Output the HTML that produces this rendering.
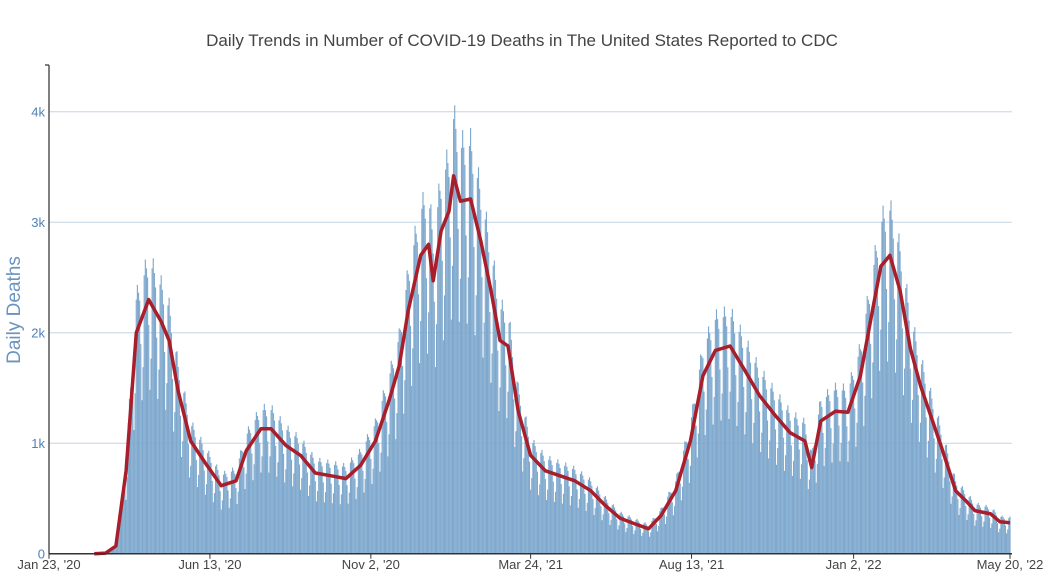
<!DOCTYPE html>
<html><head><meta charset="utf-8">
<style>
body{margin:0;background:#fff;}
svg{display:block;font-family:"Liberation Sans",sans-serif;}
</style></head>
<body>
<svg id="chart" width="1052" height="576">
  <text x="522" y="46" text-anchor="middle" font-size="17" fill="#444">Daily Trends in Number of COVID-19 Deaths in The United States Reported to CDC</text>
  <text transform="translate(20,310) rotate(-90)" text-anchor="middle" font-size="19" fill="#6a93c0">Daily Deaths</text>
  <g id="grid"></g>
  <g id="bars"></g>
  <g id="line"></g>
  <g id="axes"></g>
</svg>
<script>
// 7-day average: day offset from Jan 23 2020, and value
const avgDays = [40,50,59,68,77,88,99,106,114,125,138,152,165,174,187,196,209,222,235,249,262,275,288,300,309,317,328,335,339,346,353,357,363,372,381,390,398,405,414,425,438,451,464,478,491,504,517,529,540,553,566,577,588,601,614,627,641,654,667,673,681,694,705,716,725,734,742,751,760,769,778,787,800,809,817,831,839,848];
const avgValues = [0,5,70,750,2000,2300,2100,1930,1470,1020,820,615,660,930,1130,1130,980,890,730,705,680,800,1020,1385,1700,2200,2700,2800,2470,2920,3100,3420,3190,3210,2830,2380,1930,1880,1290,890,750,705,660,570,435,320,270,225,345,570,1020,1610,1840,1880,1660,1430,1250,1095,1020,780,1200,1290,1280,1610,2110,2600,2700,2380,1860,1520,1250,980,570,480,390,360,290,280];
// day-of-week reporting pattern
const weekdayFactor = [1.15,1.2,1.15,1.1,0.9,0.65,0.78];
const yTicks = [0,1000,2000,3000,4000];
const yTickLabels = ["0","1k","2k","3k","4k"];
const xTickDays = [0,142,284,425,567,710,848];
const xTickLabels = ["Jan 23, '20","Jun 13, '20","Nov 2, '20","Mar 24, '21","Aug 13, '21","Jan 2, '22","May 20, '22"];

const NS="http://www.w3.org/2000/svg";
const X0=49, X1=1010, DMAX=848, Y0=553.7, PXK=0.1105;
const xs=d=>X0+(d/DMAX)*(X1-X0);
const ys=v=>Y0-v*PXK;
function mk(tag,attrs,parent){const e=document.createElementNS(NS,tag);for(const k in attrs)e.setAttribute(k,attrs[k]);parent.appendChild(e);return e;}
function avgAt(d){
  if(d<avgDays[0])return 0;
  for(let i=0;i<avgDays.length-1;i++){
    if(d>=avgDays[i]&&d<=avgDays[i+1]){const t=(d-avgDays[i])/(avgDays[i+1]-avgDays[i]||1);return avgValues[i]+t*(avgValues[i+1]-avgValues[i]);}
  }
  return avgValues[avgValues.length-1];
}
const grid=document.getElementById('grid');
yTicks.forEach((v,i)=>{
  if(v>0){const g=mk('line',{x1:X0,x2:1012,y1:ys(v),y2:ys(v),stroke:'#c3d5e6','stroke-width':1},grid);
  
  }
  const t=mk('text',{x:X0-4,y:ys(v)+5,'text-anchor':'end','font-size':13,fill:'#4f82b8'},grid);
  t.textContent=yTickLabels[i];
  
  
});
const bars=document.getElementById('bars');
const bw=(X1-X0)/DMAX;
for(let d=40;d<=DMAX;d++){
  const v=avgAt(d)*weekdayFactor[d%7];
  if(v<=0)continue;
  const r=mk('rect',{x:xs(d)-bw/2,y:ys(v),width:bw,height:Y0-ys(v),fill:'#7ea8cd'},bars);
  
  
}
const line=document.getElementById('line');
let p='';
avgDays.forEach((d,i)=>{p+=(i?'L':'M')+xs(d).toFixed(1)+','+ys(avgValues[i]).toFixed(1);});
const pl=mk('path',{d:p,fill:'none',stroke:'#a81e2a','stroke-width':3.5,'stroke-linejoin':'round'},line);


const axes=document.getElementById('axes');
const ya=mk('line',{x1:X0,x2:X0,y1:65,y2:Y0,stroke:'#555','stroke-width':1.5},axes);


mk('line',{x1:X0-4,x2:X0,y1:65,y2:65,stroke:'#555','stroke-width':1.5},axes);
const xa=mk('line',{x1:X0,x2:1012,y1:Y0,y2:Y0,stroke:'#333','stroke-width':1.5},axes);


xTickDays.forEach((d,i)=>{
  mk('line',{x1:xs(d),x2:xs(d),y1:Y0,y2:Y0+5,stroke:'#333','stroke-width':1},axes);
  const t=mk('text',{x:xs(d),y:569,'text-anchor':'middle','font-size':13,fill:'#444'},axes);
  t.textContent=xTickLabels[i];
  
  
});
</script>
</body></html>
